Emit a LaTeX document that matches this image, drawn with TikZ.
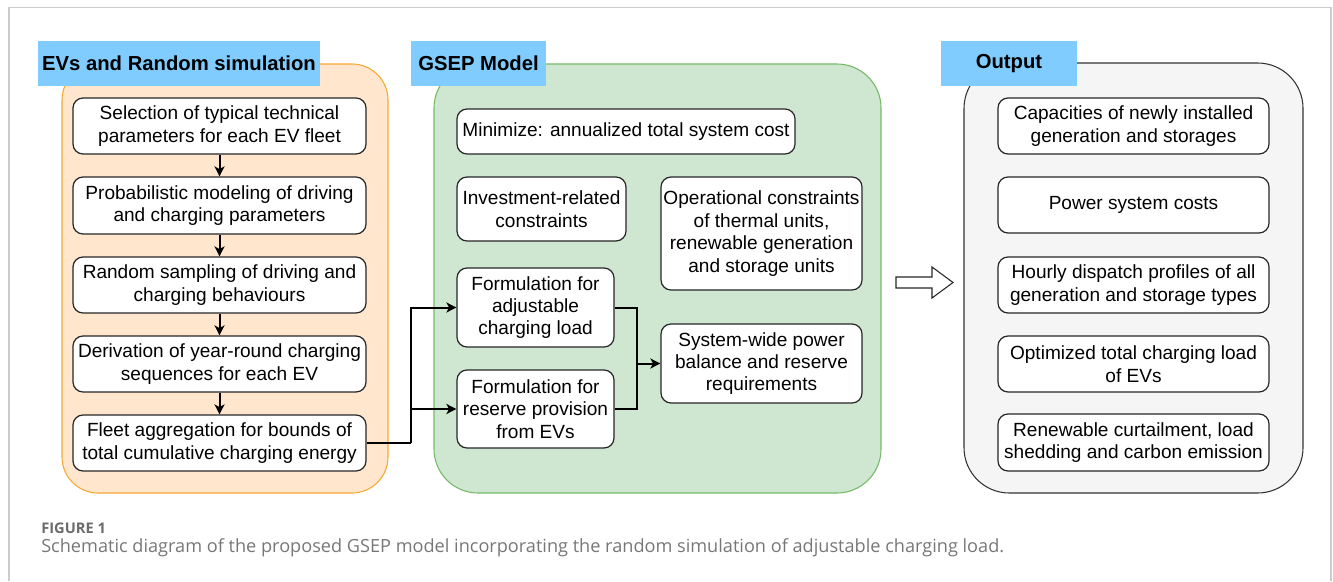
\documentclass[tikz,border=0pt]{standalone}
\usepackage{fontspec}
\setmainfont{Liberation Sans}
\newfontfamily\capfont{Open Sans}
\usetikzlibrary{arrows.meta}
\definecolor{lblblue}{HTML}{80CCFF}
\definecolor{orfill}{HTML}{FFE6CC}
\definecolor{ordraw}{HTML}{F5A833}
\definecolor{grfill}{HTML}{CFE7D1}
\definecolor{grdraw}{HTML}{74BA66}
\definecolor{gyfill}{HTML}{F5F5F5}
\definecolor{gydraw}{HTML}{333333}
\definecolor{capgray}{HTML}{777777}
\definecolor{framegray}{HTML}{CCCCCC}
\tikzset{
  box/.style={draw=black!85, fill=white, line width=0.9pt, rounded corners=7.5pt, align=center, inner sep=0pt,
    font=\fontsize{14.3pt}{16.8pt}\selectfont},
  lbl/.style={fill=lblblue, inner sep=0pt, font=\fontsize{15.2pt}{18pt}\selectfont\bfseries},
  cont/.style={line width=0.8pt, inner sep=0pt},
  arr/.style={line width=1.5pt, -{Stealth[length=7.5pt,width=7.5pt,inset=2pt]}},
  ln/.style={line width=1.5pt}
}
\newcommand\rbox[7][box]{\node[#1, minimum width={(#5-#3)*0.75pt}, minimum height={(#6-#4)*0.75pt}] (#2) at ({(#3+#5)/2},{(#4+#6)/2}) {#7};}
\begin{document}
\begin{tikzpicture}[x=0.75pt,y=-0.75pt]
\useasboundingbox (0,0) rectangle (1333,581);
% outer frame
\draw[framegray, line width=0.8pt] (9,581) -- (9,7.5) -- (1331,7.5) -- (1331,581);
% containers
\rbox[cont, draw=ordraw, fill=orfill, rounded corners=27pt]{cEV}{62}{64}{388}{493}{}
\rbox[cont, draw=grdraw, fill=grfill, rounded corners=33pt]{cGS}{434}{64}{881}{493}{}
\rbox[cont, draw=gydraw, fill=gyfill, rounded corners=34pt]{cOut}{964}{63}{1303}{493}{}
% labels
\rbox[lbl]{tEV}{38}{41}{320}{86}{EVs and Random simulation}
\rbox[lbl]{tGS}{411}{41}{546}{86}{GSEP Model}
\rbox[lbl]{tOut}{941}{41}{1077}{86}{Output}
% left column
\rbox{e1}{73}{98}{366}{154}{Selection of typical technical\\parameters for each EV fleet}
\rbox{e2}{73}{177}{366}{234}{Probabilistic modeling of driving\\and charging parameters}
\rbox{e3}{73}{257}{366}{313}{Random sampling of driving and\\charging behaviours}
\rbox{e4}{73}{336}{366}{392}{Derivation of year-round charging\\sequences for each EV}
\rbox{e5}{73}{415}{366}{471}{Fleet aggregation for bounds of\\total cumulative charging energy}
\draw[arr] (e1) -- (e2);
\draw[arr] (e2) -- (e3);
\draw[arr] (e3) -- (e4);
\draw[arr] (e4) -- (e5);
% GSEP
\rbox{g1}{457}{109}{795}{154}{Minimize: annualized total system cost}
\rbox{g2}{457}{177}{626}{241}{Investment-related\\constraints}
\rbox{g3}{661}{177}{862}{290}{Operational constraints\\of thermal units,\\renewable generation\\and storage units}
\rbox{g4}{457}{268}{614}{347}{Formulation for\\adjustable\\charging load}
\rbox{g5}{457}{370}{614}{448}{Formulation for\\reserve provision\\from EVs}
\rbox{g6}{661}{324}{862}{403}{System-wide power\\balance and reserve\\requirements}
\coordinate (j1) at (411,443);
\coordinate (j2) at (637,363.5);
\draw[ln] (e5.east) -- (j1);
\draw[arr] (j1) |- (g4.west);
\draw[arr] (j1) |- (g5.west);
\draw[ln] (g4.east) -| (j2);
\draw[ln] (g5.east) -| (j2);
\draw[arr] (j2) -- (g6.west);
% hollow arrow
\draw[draw=black!85, fill=white, line width=0.8pt, line join=miter]
  (896,277) -- (932,277) -- (932,267) -- (953,282.5) -- (932,298) -- (932,288) -- (896,288) -- cycle;
% outputs
\rbox{o1}{998}{98}{1269}{154}{Capacities of newly installed\\generation and storages}
\rbox{o2}{998}{177}{1269}{233}{Power system costs}
\rbox{o3}{998}{257}{1269}{313}{Hourly dispatch profiles of all\\generation and storage types}
\rbox{o4}{998}{336}{1269}{392}{Optimized total charging load\\of EVs}
\rbox{o5}{998}{414}{1269}{471}{Renewable curtailment, load\\shedding and carbon emission}
% caption
\node[anchor=west, inner sep=0pt, text=capgray!90!black, font=\capfont\fontsize{11pt}{13pt}\selectfont\bfseries] (cap1) at (41,528) {FIGURE 1};
\node[anchor=west, inner sep=0pt, text=capgray, font=\capfont\fontsize{13.6pt}{16pt}\selectfont] (cap2) at (41,547.5) {Schematic diagram of the proposed GSEP model incorporating the random simulation of adjustable charging load.};
\end{tikzpicture}
\end{document}
